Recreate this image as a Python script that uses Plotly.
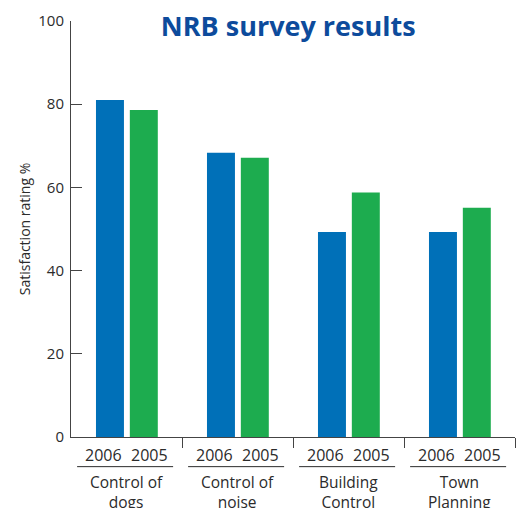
import plotly.graph_objects as go

categories = ["Control of<br>dogs", "Control of<br>noise", "Building<br>Control", "Town<br>Planning"]
series_names = ["2006", "2005"]
values_2006 = [81, 68.3, 49.3, 49.3]
values_2005 = [78.6, 67.1, 58.8, 55.1]
y_ticks = [0, 20, 40, 60, 80, 100]

BLUE = "#0070b8"
GREEN = "#1dac4f"
TXT = "#2b2b2b"
FONT = "Open Sans"

centers = [i + 0.5 for i in range(len(categories))]

fig = go.Figure()
fig.add_trace(go.Bar(x=centers, y=values_2006, name=series_names[0], marker_color=BLUE,
                     width=0.252, offset=-0.275, marker_line_width=0))
fig.add_trace(go.Bar(x=centers, y=values_2005, name=series_names[1], marker_color=GREEN,
                     width=0.252, offset=0.03, marker_line_width=0))

annotations = []
shapes = []
for i, (c, cat) in enumerate(zip(centers, categories)):
    for lbl, dx in zip(series_names, [-0.21, 0.21]):
        annotations.append(dict(x=c + dx, y=0, xref="x", yref="paper", text=lbl,
                                showarrow=False, yanchor="top", yshift=-5,
                                font=dict(family=FONT, size=16, color=TXT)))
    shapes.append(dict(type="line", xref="x", yref="paper", x0=i + 0.055, x1=i + 0.92,
                       y0=-30 / 421, y1=-30 / 421, line=dict(color=TXT, width=1)))
    annotations.append(dict(x=c, y=-32 / 421, xref="x", yref="paper", text=cat,
                            showarrow=False, yanchor="top", align="center",
                            font=dict(family=FONT, size=15.5, color=TXT)))

fig.update_layout(
    width=525, height=508,
    margin=dict(l=71, r=10, t=16, b=71),
    paper_bgcolor="white", plot_bgcolor="white",
    showlegend=False,
    font=dict(family=FONT, color=TXT),
    title=dict(text="<b>NRB survey results</b>", x=0.549, xanchor="center",
               y=1 - 27 / 508, yanchor="middle", yref="container",
               font=dict(family=FONT, size=27, color="#0d4b9c")),
    xaxis=dict(range=[0, 4], tickvals=[1, 2, 3, 4], showticklabels=False,
               ticks="outside", ticklen=10, tickcolor="#444", showline=True,
               linecolor="#444", linewidth=1, showgrid=False, zeroline=False,
               fixedrange=True),
    yaxis=dict(range=[0, 100], tickvals=y_ticks, ticks="inside", ticklen=11,
               tickcolor="#444", showline=True, linecolor="#444", linewidth=1,
               showgrid=False, zeroline=False, ticklabelstandoff=3,
               tickfont=dict(family=FONT, size=15, color=TXT),
               title=dict(text="Satisfaction rating %", standoff=4,
                          font=dict(family=FONT, size=14, color=TXT)),
               fixedrange=True),
    annotations=annotations,
    shapes=shapes,
)

fig.write_html("out.html", config={"displayModeBar": False},
               post_script="document.body.style.margin='0';document.body.style.padding='0';")
